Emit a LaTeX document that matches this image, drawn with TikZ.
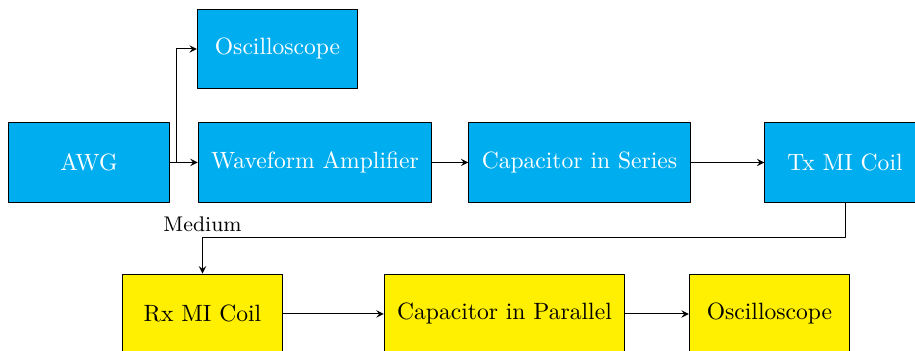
\documentclass[tikz,border=0pt]{standalone}
\usepackage{xcolor}
\usepackage{tikz}
\usetikzlibrary{calc, positioning}

\definecolor{txblue}{RGB}{0,174,239}
\definecolor{rxyellow}{RGB}{255,239,0}

\begin{document}
\begin{tikzpicture}[line join=round, >=stealth,
    txbox/.style={draw, fill=txblue, text=white, inner xsep=5.5pt, minimum width=2.39cm, minimum height=1.19cm},
    rxbox/.style={draw, fill=rxyellow, text=black, inner xsep=5.5pt, minimum width=2.39cm, minimum height=1.19cm}]

        \useasboundingbox (0,0) rectangle (13.643,5.233);

        % =========================
        % KHOI PHAT (TX)
        % =========================
        \node[txbox] (awg)    at (1.327,2.811)  {AWG};
        \node[txbox] (scope)  at (4.138,4.503)  {Oscilloscope};
        \node[txbox] (amp)    at (4.697,2.811)  {Waveform Amplifier};
        \node[txbox] (capser) at (8.640,2.811)  {Capacitor in Series};
        \node[txbox] (txcoil) at (12.599,2.811) {Tx MI Coil};

        % =========================
        % KHOI THU (RX)
        % =========================
        \node[rxbox] (rxcoil)  at (3.019,0.552)  {Rx MI Coil};
        \node[rxbox] (cappar)  at (7.522,0.552)  {Capacitor in Parallel};
        \node[rxbox] (scoperx) at (11.473,0.552) {Oscilloscope};

        % =========================
        % DIEM PHU
        % =========================
        \coordinate (split) at ($(awg.east)+(0.10,0)$);
        \coordinate (med)   at ($(rxcoil.north)+(0,0.54)$);

        % =========================
        % CAC MUI TEN
        % =========================
        \draw[->] (awg.east) -- (amp.west);
        \draw[->] (split) |- (scope.west);
        \draw[->] (amp.east) -- (capser.west);
        \draw[->] (capser.east) -- (txcoil.west);

        \draw[->] (txcoil.south) |- (med)
            node[above=-1pt, font=\small] {Medium} -- (rxcoil.north);

        \draw[->] (rxcoil.east) -- (cappar.west);
        \draw[->] (cappar.east) -- (scoperx.west);

    \end{tikzpicture}
\end{document}
